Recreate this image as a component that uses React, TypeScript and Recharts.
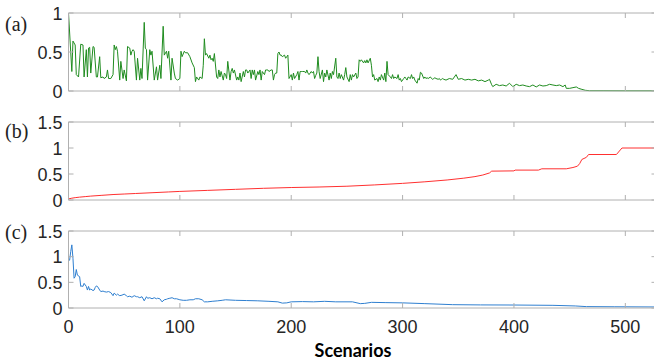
import { LineChart, Line, XAxis, YAxis } from "recharts";

// shared axis ticks
const xTicks = [0, 100, 200, 300, 400, 500];
const yTicksA = [0, 0.5, 1];
const yTicksBC = [0, 0.5, 1, 1.5];

// (a) green series
const scenariosA = [
  0, 3, 4, 6, 7, 9, 11, 13, 14, 16, 17, 18, 19, 20, 22, 23, 25, 26, 28, 29,
  31, 32, 34, 35, 36, 38, 40, 41, 42, 43, 44, 46, 47, 49, 50, 52, 53, 55, 56, 57,
  58, 59, 61, 62, 64, 65, 66, 68, 69, 70, 71, 73, 74, 75, 77, 79, 80, 82, 83, 85,
  86, 88, 89, 90, 92, 93, 95, 96, 98, 100, 101, 102, 104, 105, 107, 109, 111, 113, 114, 115,
  117, 118, 120, 121, 122, 123, 124, 126, 127, 128, 129, 130, 131, 133, 134, 135, 136, 137, 139, 140,
  141, 142, 143, 145, 146, 147, 148, 149, 151, 152, 153, 154, 155, 157, 158, 159, 160, 161, 163, 164,
  165, 166, 167, 168, 170, 171, 172, 173, 174, 176, 177, 178, 179, 180, 182, 183, 184, 185, 186, 187,
  188, 189, 190, 191, 192, 194, 195, 196, 197, 198, 200, 201, 202, 203, 205, 206, 207, 208, 209, 210,
  212, 213, 214, 215, 216, 218, 219, 220, 221, 222, 223, 224, 225, 226, 228, 229, 230, 231, 232, 234,
  235, 236, 237, 238, 240, 241, 242, 243, 244, 245, 247, 248, 249, 250, 252, 253, 254, 255, 256, 258,
  259, 260, 261, 262, 263, 265, 266, 267, 268, 269, 271, 272, 273, 274, 275, 277, 278, 279, 280, 281,
  283, 284, 285, 286, 287, 289, 290, 291, 292, 293, 295, 296, 297, 298, 299, 301, 302, 303, 304, 305,
  307, 308, 309, 310, 311, 313, 314, 315, 316, 317, 319, 320, 321, 322, 323, 325, 326, 327, 328, 329,
  330, 332, 333, 334, 335, 336, 337, 339, 342, 345, 348, 350, 353, 356, 359, 362, 365, 368, 371, 374,
  377, 378, 380, 381, 384, 387, 390, 393, 396, 399, 402, 405, 408, 411, 414, 417, 420, 423, 426, 429,
  432, 435, 438, 441, 444, 446, 447, 450, 453, 456, 458, 461, 464, 468, 480, 500, 528,
];
const valuesA = [
  1.0, 0.25, 0.64, 0.59, 0.21, 0.18, 0.6, 0.59, 0.18, 0.53, 0.18, 0.55, 0.56, 0.23, 0.57, 0.56, 0.18, 0.18, 0.44, 0.17,
  0.18, 0.16, 0.18, 0.27, 0.16, 0.16, 0.21, 0.59, 0.53, 0.57, 0.51, 0.14, 0.38, 0.16, 0.27, 0.13, 0.57, 0.55, 0.46, 0.51,
  0.53, 0.51, 0.14, 0.42, 0.14, 0.29, 0.16, 0.88, 0.55, 0.53, 0.14, 0.53, 0.46, 0.51, 0.14, 0.31, 0.14, 0.33, 0.16, 0.83,
  0.46, 0.51, 0.42, 0.51, 0.14, 0.42, 0.23, 0.16, 0.14, 0.16, 0.51, 0.44, 0.51, 0.49, 0.49, 0.44, 0.36, 0.3, 0.12, 0.18,
  0.14, 0.18, 0.16, 0.33, 0.67, 0.46, 0.48, 0.42, 0.46, 0.4, 0.42, 0.38, 0.48, 0.18, 0.16, 0.27, 0.18, 0.25, 0.14, 0.23,
  0.21, 0.16, 0.38, 0.14, 0.25, 0.29, 0.23, 0.27, 0.14, 0.18, 0.14, 0.23, 0.12, 0.25, 0.18, 0.27, 0.27, 0.23, 0.27, 0.16,
  0.27, 0.21, 0.27, 0.14, 0.25, 0.21, 0.27, 0.14, 0.25, 0.21, 0.27, 0.27, 0.27, 0.25, 0.27, 0.27, 0.14, 0.21, 0.23, 0.23,
  0.48, 0.5, 0.46, 0.46, 0.44, 0.46, 0.42, 0.44, 0.46, 0.16, 0.21, 0.14, 0.23, 0.16, 0.21, 0.25, 0.14, 0.25, 0.25, 0.25,
  0.25, 0.23, 0.27, 0.23, 0.21, 0.25, 0.23, 0.25, 0.16, 0.2, 0.23, 0.44, 0.25, 0.16, 0.27, 0.12, 0.23, 0.18, 0.27, 0.14,
  0.23, 0.16, 0.25, 0.21, 0.42, 0.18, 0.16, 0.23, 0.16, 0.21, 0.14, 0.21, 0.3, 0.18, 0.12, 0.21, 0.14, 0.21, 0.18, 0.23,
  0.16, 0.18, 0.4, 0.38, 0.4, 0.36, 0.39, 0.36, 0.4, 0.36, 0.42, 0.33, 0.18, 0.21, 0.14, 0.16, 0.12, 0.18, 0.14, 0.21,
  0.14, 0.23, 0.12, 0.38, 0.21, 0.18, 0.16, 0.21, 0.16, 0.18, 0.16, 0.21, 0.14, 0.16, 0.12, 0.16, 0.18, 0.16, 0.14, 0.18,
  0.16, 0.21, 0.16, 0.18, 0.14, 0.1, 0.16, 0.14, 0.24, 0.23, 0.16, 0.18, 0.16, 0.17, 0.16, 0.18, 0.16, 0.15, 0.16, 0.17,
  0.16, 0.15, 0.16, 0.14, 0.15, 0.16, 0.15, 0.14, 0.16, 0.15, 0.21, 0.15, 0.16, 0.14, 0.15, 0.14, 0.15, 0.13, 0.14, 0.12,
  0.14, 0.15, 0.08, 0.056, 0.086, 0.069, 0.077, 0.064, 0.099, 0.056, 0.086, 0.069, 0.077, 0.064, 0.056, 0.077, 0.052, 0.077, 0.064, 0.069,
  0.086, 0.077, 0.069, 0.077, 0.056, 0.077, 0.034, 0.034, 0.043, 0.052, 0.034, 0.021, 0.009, 0.004, 0.004, 0.003, 0.003,
];

// (b) red series
const scenariosB = [
  0, 3, 6, 10, 15, 20, 30, 40, 50, 60, 75, 90, 100, 125, 150, 175, 200, 225, 250, 275,
  300, 320, 340, 355, 365, 372, 378, 380, 400, 401, 422, 425, 447, 453, 457, 459, 461, 465, 467, 492,
  497, 528,
];
const valuesB = [
  0.02, 0.035, 0.045, 0.055, 0.065, 0.075, 0.09, 0.105, 0.115, 0.125, 0.14, 0.155, 0.165, 0.185, 0.205, 0.225, 0.24, 0.25, 0.265, 0.29,
  0.32, 0.35, 0.385, 0.42, 0.45, 0.48, 0.52, 0.555, 0.56, 0.575, 0.575, 0.6, 0.6, 0.625, 0.65, 0.7, 0.78, 0.82, 0.875, 0.875,
  1.0, 1.0,
];

// (c) blue series
const scenariosC = [
  0, 1, 2, 3, 4, 5, 6, 7, 8, 10, 11, 12, 13, 14, 16, 17, 18, 19, 20, 22,
  23, 24, 25, 26, 28, 29, 31, 32, 34, 36, 38, 40, 41, 43, 44, 46, 48, 50, 52, 53,
  55, 57, 59, 61, 62, 64, 66, 68, 70, 71, 73, 75, 77, 79, 80, 82, 84, 86, 88, 89,
  91, 93, 95, 97, 100, 103, 106, 109, 112, 114, 117, 120, 122, 125, 129, 134, 138, 141, 150, 160,
  170, 180, 188, 192, 196, 200, 210, 220, 230, 240, 255, 262, 266, 272, 285, 300, 320, 345, 370, 400,
  435, 455, 465, 490, 528,
];
const valuesC = [
  0.95, 0.93, 1.1, 1.23, 0.97, 0.58, 0.61, 0.75, 0.64, 0.61, 0.42, 0.43, 0.42, 0.48, 0.42, 0.35, 0.42, 0.35, 0.37, 0.34,
  0.35, 0.4, 0.43, 0.42, 0.35, 0.32, 0.33, 0.32, 0.31, 0.32, 0.3, 0.24, 0.29, 0.25, 0.27, 0.24, 0.25, 0.27, 0.24, 0.22,
  0.23, 0.21, 0.24, 0.22, 0.22, 0.2, 0.22, 0.14, 0.22, 0.19, 0.2, 0.18, 0.2, 0.18, 0.19, 0.18, 0.12, 0.16, 0.17, 0.18,
  0.19, 0.2, 0.18, 0.18, 0.16, 0.15, 0.15, 0.16, 0.16, 0.18, 0.18, 0.16, 0.12, 0.12, 0.13, 0.14, 0.15, 0.16, 0.15, 0.145,
  0.14, 0.13, 0.12, 0.095, 0.1, 0.12, 0.125, 0.12, 0.13, 0.12, 0.12, 0.085, 0.09, 0.11, 0.105, 0.1, 0.085, 0.065, 0.06, 0.058,
  0.052, 0.04, 0.027, 0.024, 0.02,
];

const toRows = (xs: number[], ys: number[]) => xs.map((x, i) => ({ x, y: ys[i] }));

const AXIS = "#b0b0b0";
const LABEL_FONT = "'Liberation Sans', Arial, sans-serif";
const X_MAX = 528;
const TICK_LEN = 5;

// MATLAB-style inward ticks: axis passes tick position, we draw the mark inside
const bottomTick = (showLabel: boolean) => (p: any) => (
  <g>
    <line x1={p.x} x2={p.x} y1={p.y} y2={p.y - TICK_LEN} stroke={AXIS} />
    {showLabel && (
      <text x={p.x} y={p.y + 25} textAnchor="middle" fill="#262626" fontSize={18} fontFamily={LABEL_FONT}>
        {p.payload.value}
      </text>
    )}
  </g>
);
const topTick = (p: any) => (
  <line x1={p.x} x2={p.x} y1={p.y} y2={p.y + TICK_LEN} stroke={AXIS} />
);
const leftTick = (p: any) => (
  <g>
    <line x1={p.x} x2={p.x + TICK_LEN} y1={p.y} y2={p.y} stroke={AXIS} />
    <text x={p.x - 6} y={p.y + 6.5} textAnchor="end" fill="#262626" fontSize={18} fontFamily={LABEL_FONT}>
      {String(p.payload.value)}
    </text>
  </g>
);
const rightTick = (p: any) => (
  <line x1={p.x} x2={p.x - TICK_LEN} y1={p.y} y2={p.y} stroke={AXIS} />
);

function Panel(props: {
  rows: { x: number; y: number }[];
  color: string;
  yTicks: number[];
  yMax: number;
  top: number;
  height: number;
  xHeight: number;
  showX: boolean;
}) {
  const { rows, color, yTicks, yMax, top, height, xHeight, showX } = props;
  return (
    <div style={{ position: "absolute", left: 0, top }}>
      <LineChart width={670} height={height} data={rows} margin={{ top: 12, right: 0, bottom: 0, left: 0 }}>
        <XAxis
          dataKey="x"
          type="number"
          domain={[0, X_MAX]}
          ticks={xTicks}
          interval={0}
          height={xHeight}
          stroke={AXIS}
          axisLine={{ stroke: AXIS }}
          tickLine={false}
          tickSize={0}
          tickMargin={0}
          tick={bottomTick(showX)}
        />
        <XAxis
          xAxisId="top"
          dataKey="x"
          orientation="top"
          type="number"
          domain={[0, X_MAX]}
          ticks={xTicks}
          interval={0}
          height={1}
          stroke={AXIS}
          axisLine={{ stroke: AXIS }}
          tickLine={false}
          tickSize={0}
          tickMargin={0}
          tick={topTick}
        />
        <YAxis
          type="number"
          domain={[0, yMax]}
          ticks={yTicks}
          interval={0}
          width={68.5}
          stroke={AXIS}
          axisLine={{ stroke: AXIS }}
          tickLine={false}
          tickSize={0}
          tickMargin={0}
          tick={leftTick}
        />
        <YAxis
          yAxisId="right"
          orientation="right"
          type="number"
          domain={[0, yMax]}
          ticks={yTicks}
          interval={0}
          width={13.5}
          stroke={AXIS}
          axisLine={{ stroke: AXIS }}
          tickLine={false}
          tickSize={0}
          tickMargin={0}
          tick={rightTick}
        />
        <Line
          type="linear"
          dataKey="y"
          stroke={color}
          strokeWidth={1}
          dot={false}
          isAnimationActive={false}
        />
        {/* invisible twin so the box axes (top / right) get a domain */}
        <Line
          xAxisId="top"
          yAxisId="right"
          type="linear"
          dataKey="y"
          stroke="none"
          dot={false}
          activeDot={false}
          legendType="none"
          isAnimationActive={false}
        />
      </LineChart>
    </div>
  );
}

const panelLabel = (top: number): React.CSSProperties => ({
  position: "absolute",
  left: 5,
  top,
  fontFamily: "'Liberation Serif', 'Times New Roman', serif",
  fontSize: 20,
  lineHeight: "20px",
  color: "#222",
});

export default function App() {
  return (
    <div
      style={{
        position: "absolute",
        left: 0,
        top: 0,
        width: 654,
        height: 362,
        overflow: "hidden",
        background: "#fff",
      }}
    >
      <Panel rows={toRows(scenariosA, valuesA)} color="#1f8c1f" yTicks={yTicksA} yMax={1} top={0} height={100} xHeight={9} showX={false} />
      <Panel rows={toRows(scenariosB, valuesB)} color="#ff3030" yTicks={yTicksBC} yMax={1.5} top={109} height={100} xHeight={9} showX={false} />
      <Panel rows={toRows(scenariosC, valuesC)} color="#2f7fd0" yTicks={yTicksBC} yMax={1.5} top={218} height={144} xHeight={54} showX={true} />

      <div style={panelLabel(14)}>(a)</div>
      <div style={panelLabel(121)}>(b)</div>
      <div style={panelLabel(222)}>(c)</div>

      <div
        style={{
          position: "absolute",
          left: 0,
          width: 706,
          top: 341,
          textAlign: "center",
          fontFamily: "Lato, 'Open Sans', sans-serif",
          fontWeight: 700,
          fontSize: 18,
          lineHeight: "18px",
          color: "#000",
        }}
      >
        Scenarios
      </div>
    </div>
  );
}
